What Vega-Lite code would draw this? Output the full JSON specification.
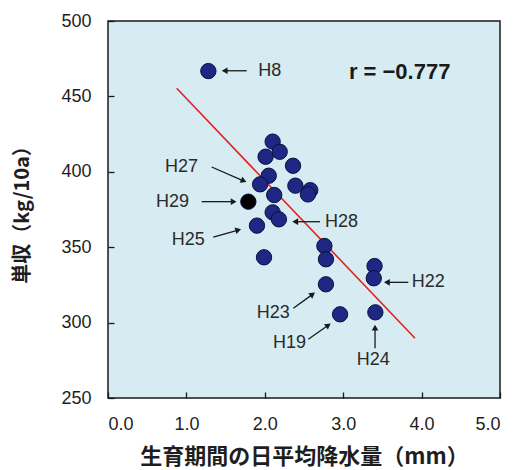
{
  "$schema": "https://vega.github.io/schema/vega-lite/v6.json",
  "autosize": {"type": "none"},
  "padding": {"left": 108, "top": 21, "right": 19, "bottom": 72},
  "width": 392,
  "height": 377,
  "background": "white",
  "config": {
    "view": {"fill": "#d6ebf2", "stroke": "#1a1a1a", "strokeWidth": 1.5},
    "axis": {
      "grid": false,
      "domain": false,
      "zindex": 1,
      "tickColor": "#1a1a1a",
      "tickSize": -6,
      "tickWidth": 1.3,
      "labelFont": "Liberation Sans",
      "labelFontSize": 18,
      "labelColor": "#1e1e1e",
      "titleFont": "Noto Sans CJK JP",
      "titleFontSize": 20,
      "titleFontWeight": "bold",
      "titleColor": "#1e1e1e"
    }
  },
  "datasets": {
    "points": [
      {"x": 1.28, "y": 466.8, "kind": "other"},
      {"x": 2.10, "y": 420.0, "kind": "other"},
      {"x": 2.19, "y": 413.3, "kind": "other"},
      {"x": 2.01, "y": 410.0, "kind": "other"},
      {"x": 2.36, "y": 404.0, "kind": "other"},
      {"x": 2.05, "y": 397.4, "kind": "other"},
      {"x": 1.94, "y": 391.7, "kind": "other"},
      {"x": 2.39, "y": 390.8, "kind": "other"},
      {"x": 2.58, "y": 387.8, "kind": "other"},
      {"x": 2.55, "y": 385.0, "kind": "other"},
      {"x": 2.12, "y": 384.6, "kind": "other"},
      {"x": 1.79, "y": 380.2, "kind": "H29"},
      {"x": 2.10, "y": 373.1, "kind": "other"},
      {"x": 2.18, "y": 368.5, "kind": "other"},
      {"x": 1.90, "y": 364.3, "kind": "other"},
      {"x": 1.99, "y": 343.3, "kind": "other"},
      {"x": 2.76, "y": 350.8, "kind": "other"},
      {"x": 2.78, "y": 342.0, "kind": "other"},
      {"x": 2.78, "y": 325.4, "kind": "other"},
      {"x": 3.40, "y": 337.5, "kind": "other"},
      {"x": 3.39, "y": 329.4, "kind": "other"},
      {"x": 2.96, "y": 305.5, "kind": "other"},
      {"x": 3.41, "y": 306.8, "kind": "other"}
    ],
    "fit": [{"x": 0.876, "y": 455.4, "x2": 3.916, "y2": 289.6}],
    "labels": [
      {"label": "H8", "x": 1.917, "y": 467.0},
      {"label": "H27", "x": 0.727, "y": 403.2},
      {"label": "H29", "x": 0.612, "y": 380.2},
      {"label": "H25", "x": 0.813, "y": 354.8},
      {"label": "H28", "x": 2.768, "y": 366.9},
      {"label": "H22", "x": 3.874, "y": 326.7},
      {"label": "H24", "x": 3.172, "y": 275.2},
      {"label": "H23", "x": 1.897, "y": 306.2},
      {"label": "H19", "x": 2.105, "y": 286.3}
    ],
    "arrows": [
      {"x": 1.769, "y": 467.0, "x2": 1.50, "y2": 467.0},
      {"x": 1.323, "y": 403.2, "x2": 1.72, "y2": 394.2},
      {"x": 1.195, "y": 380.2, "x2": 1.59, "y2": 380.2},
      {"x": 1.343, "y": 356.6, "x2": 1.65, "y2": 361.2},
      {"x": 2.704, "y": 366.9, "x2": 2.40, "y2": 366.9},
      {"x": 3.830, "y": 326.7, "x2": 3.57, "y2": 326.7},
      {"x": 3.406, "y": 283.0, "x2": 3.406, "y2": 296.0},
      {"x": 2.364, "y": 309.5, "x2": 2.60, "y2": 318.4},
      {"x": 2.555, "y": 288.9, "x2": 2.80, "y2": 297.9}
    ],
    "rtext": [{"label": "r = −0.777", "x": 3.72, "y": 466.5}]
  },
  "layer": [
    {
      "data": {"name": "fit"},
      "mark": {"type": "rule", "color": "#e3231f", "strokeWidth": 1.6},
      "encoding": {
        "x": {"field": "x", "type": "quantitative", "scale": {"domain": [0, 5], "nice": false, "zero": false},
          "axis": {"values": [0, 1, 2, 3, 4, 5], "format": ".1f", "labelPadding": 23, "title": "生育期間の日平均降水量（mm）", "titleFontSize": 22, "titlePadding": 13}},
        "y": {"field": "y", "type": "quantitative", "scale": {"domain": [250, 500], "nice": false, "zero": false},
          "axis": {"values": [250, 300, 350, 400, 450, 500], "labelPadding": 23, "title": "単収（kg/10a）", "titlePadding": 28}},
        "x2": {"field": "x2"},
        "y2": {"field": "y2"}
      }
    },
    {
      "data": {"name": "points"},
      "mark": {"type": "point", "filled": true, "opacity": 1, "size": 235, "stroke": "#0b0f3a", "strokeWidth": 1},
      "encoding": {
        "x": {"field": "x", "type": "quantitative"},
        "y": {"field": "y", "type": "quantitative"},
        "color": {"field": "kind", "type": "nominal", "scale": {"domain": ["other", "H29"], "range": ["#1e2784", "#000000"]}, "legend": null}
      }
    },
    {
      "data": {"name": "arrows"},
      "mark": {"type": "rule", "color": "#1a1a1a", "strokeWidth": 1.3},
      "encoding": {
        "x": {"field": "x", "type": "quantitative"},
        "y": {"field": "y", "type": "quantitative"},
        "x2": {"field": "x2"},
        "y2": {"field": "y2"}
      }
    },
    {
      "data": {"name": "arrows"},
      "transform": [{"calculate": "atan2((datum.x2 - datum.x) * 392 / 5, (datum.y2 - datum.y) * 377 / 250) * 180 / PI", "as": "ang"}],
      "mark": {"type": "point", "shape": "triangle", "filled": true, "opacity": 1, "size": 45, "color": "#1a1a1a"},
      "encoding": {
        "x": {"field": "x2", "type": "quantitative"},
        "y": {"field": "y2", "type": "quantitative"},
        "angle": {"field": "ang", "type": "quantitative", "scale": null}
      }
    },
    {
      "data": {"name": "labels"},
      "mark": {"type": "text", "align": "left", "baseline": "middle", "font": "Liberation Sans", "fontSize": 18, "color": "#2a2a2a"},
      "encoding": {
        "x": {"field": "x", "type": "quantitative"},
        "y": {"field": "y", "type": "quantitative"},
        "text": {"field": "label"}
      }
    },
    {
      "data": {"name": "rtext"},
      "mark": {"type": "text", "align": "center", "baseline": "middle", "font": "Liberation Sans", "fontSize": 22, "fontWeight": "bold", "color": "#1a1a1a"},
      "encoding": {
        "x": {"field": "x", "type": "quantitative"},
        "y": {"field": "y", "type": "quantitative"},
        "text": {"field": "label"}
      }
    }
  ]
}
